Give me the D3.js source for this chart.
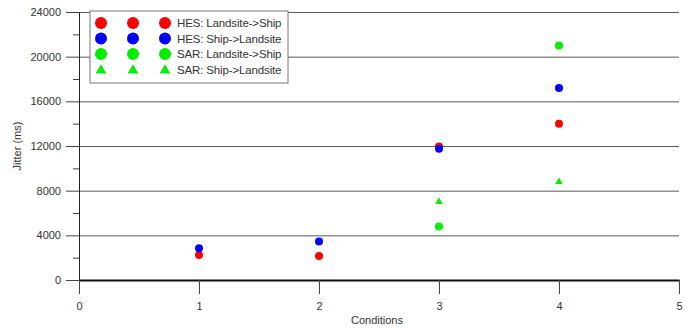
<!DOCTYPE html>
<html>
<head>
<meta charset="utf-8">
<script src="https://cdn.jsdelivr.net/npm/d3@7"></script>
<style>
  body { margin: 0; background: #fff; }
  text { font-family: "Liberation Sans", Arial, sans-serif; font-size: 11px; fill: #333; }
</style>
</head>
<body>
<svg id="canvas"></svg>
<script>
const conditions = [1, 2, 3, 4];
const hesLandToShip = [2250, 2150, 11950, 14000];
const hesShipToLand = [2850, 3450, 11750, 17200];
const sarLandToShip = [null, null, 4800, 21000];
const sarShipToLand = [null, null, 7000, 8800];
const yTicks = [0, 4000, 8000, 12000, 16000, 20000, 24000];
const xTicks = [0, 1, 2, 3, 4, 5];

const series = [
    { name: "HES: Landsite->Ship", color: "#ff0000", shape: "circle", values: hesLandToShip },
    { name: "HES: Ship->Landsite", color: "#0000ff", shape: "circle", values: hesShipToLand },
    { name: "SAR: Landsite->Ship", color: "#00ee00", shape: "circle", values: sarLandToShip },
    { name: "SAR: Ship->Landsite", color: "#00ee00", shape: "triangle", values: sarShipToLand },
];

const width = 694,
    height = 328;

const svg = d3.select("#canvas")
    .attr("width", width)
    .attr("height", height);

const margin = { top: 12, right: 15, bottom: 48, left: 79 };
const innerWidth = width - margin.left - margin.right;
const innerHeight = height - margin.top - margin.bottom;

const scaleX = d3.scaleLinear().domain([0, 5]).range([0, innerWidth]);
const scaleY = d3.scaleLinear().domain([0, 24000]).range([innerHeight, 0]);

const root = svg.append("g").attr("transform", `translate(${margin.left}, ${margin.top})`);

// gridlines
root.append("g")
    .selectAll("line")
    .data(yTicks.filter(d => d > 0))
    .join("line")
    .attr("x1", 0)
    .attr("x2", innerWidth)
    .attr("y1", d => scaleY(d) + 0.5)
    .attr("y2", d => scaleY(d) + 0.5)
    .attr("stroke", "#5a5a5a");

// y axis with major and minor ticks
const axisY = root.append("g")
    .call(d3.axisLeft(scaleY).tickValues(yTicks).tickFormat(d3.format("d")).tickSize(13).tickSizeOuter(0).tickPadding(5));
axisY.select(".domain").attr("stroke", "#222");
axisY.selectAll(".tick line").attr("stroke", "#444");
axisY.selectAll("text").style("font-size", "11px").attr("fill", "#333");

root.append("g")
    .call(d3.axisLeft(scaleY).tickValues(d3.range(2000, 24000, 4000)).tickSize(6).tickFormat(""))
    .call(g => g.select(".domain").remove())
    .selectAll(".tick line").attr("stroke", "#444");

// x axis
const axisX = root.append("g")
    .attr("transform", `translate(0, ${innerHeight})`)
    .call(d3.axisBottom(scaleX).tickValues(xTicks).tickFormat(d3.format("d")).tickSize(14).tickSizeOuter(0).tickPadding(8));
axisX.select(".domain").attr("stroke", "#111").attr("stroke-width", 2);
axisX.selectAll(".tick line").attr("stroke", "#444");
axisX.selectAll("text").style("font-size", "11px").attr("fill", "#333");

// axis titles
svg.append("text")
    .attr("x", margin.left + innerWidth / 2 - 2)
    .attr("y", 324)
    .attr("text-anchor", "middle")
    .text("Conditions");
svg.append("text")
    .attr("transform", `translate(21, ${margin.top + 134}) rotate(-90)`)
    .attr("text-anchor", "middle")
    .text("Jitter (ms)");

// points
const triangle = d3.symbol().type(d3.symbolTriangle);
series.forEach(s => {
    const pts = conditions.map((c, i) => ({ x: c, y: s.values[i] })).filter(d => d.y != null);
    if (s.shape === "circle") {
        root.append("g").selectAll("circle")
            .data(pts)
            .join("circle")
            .attr("cx", d => scaleX(d.x))
            .attr("cy", d => scaleY(d.y))
            .attr("r", 4)
            .attr("fill", s.color);
    } else {
        root.append("g").selectAll("path")
            .data(pts)
            .join("path")
            .attr("transform", d => `translate(${scaleX(d.x)}, ${scaleY(d.y)})`)
            .attr("d", triangle.size(24)())
            .attr("fill", s.color);
    }
});

// legend
const legend = svg.append("g").attr("transform", "translate(90, 11)");
legend.append("rect")
    .attr("width", 198)
    .attr("height", 72)
    .attr("fill", "#fff")
    .attr("stroke", "#777");
const rows = legend.selectAll("g.row")
    .data(series)
    .join("g")
    .classed("row", true)
    .attr("transform", (d, i) => `translate(0, ${12 + i * 15.5})`);
[11, 43, 75].forEach(mx => {
    rows.each(function (d) {
        const g = d3.select(this);
        if (d.shape === "circle") {
            g.append("circle").attr("cx", mx).attr("cy", 0).attr("r", 6).attr("fill", d.color);
        } else {
            g.append("path")
                .attr("transform", `translate(${mx}, 1)`)
                .attr("d", d3.symbol().type(d3.symbolTriangle).size(50)())
                .attr("fill", d.color);
        }
    });
});
rows.append("text")
    .attr("x", 87)
    .attr("y", 4)
    .attr("textLength", d => d.name.length * 5.5)
    .style("font-size", "11.5px")
    .text(d => d.name);
</script>
</body>
</html>
